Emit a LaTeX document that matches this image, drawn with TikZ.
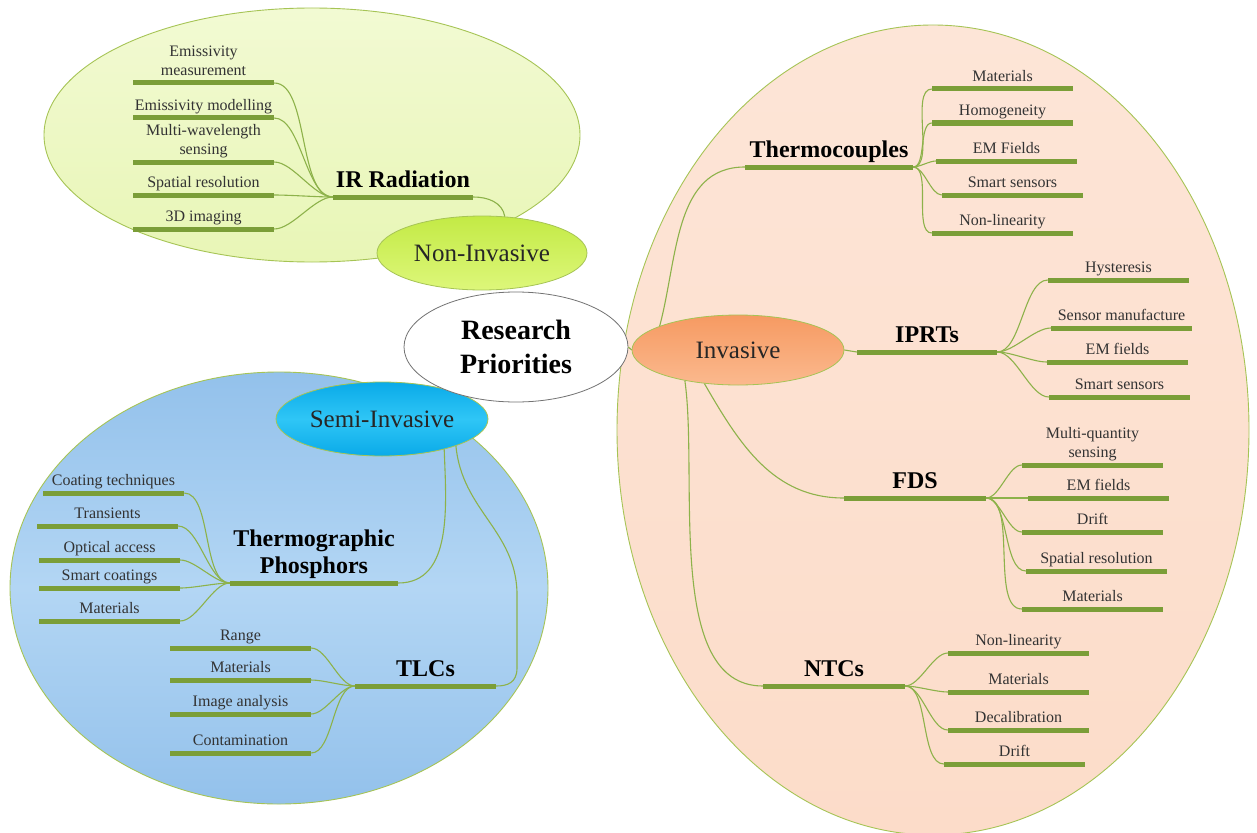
\documentclass[tikz,border=0pt]{standalone}
\usepackage{fontspec}
\setmainfont{Liberation Serif}
\usetikzlibrary{shapes.geometric}
\definecolor{barcol}{HTML}{7B9E38}
\definecolor{conncol}{HTML}{8DB24A}
\definecolor{regborder}{HTML}{A6C455}
\definecolor{textgray}{HTML}{333333}
\definecolor{irtop}{HTML}{F2FAD3}
\definecolor{irbot}{HTML}{E8F6B6}
\definecolor{nitop}{HTML}{C3EA45}
\definecolor{nibot}{HTML}{DDF77A}
\definecolor{petop}{HTML}{FDE5D7}
\definecolor{pebot}{HTML}{FCDCC9}
\definecolor{invtop}{HTML}{F69A62}
\definecolor{invbot}{HTML}{FBB98E}
\definecolor{bltop}{HTML}{93C1EB}
\definecolor{blmid}{HTML}{B3D6F4}
\definecolor{blbot}{HTML}{93C1EB}
\definecolor{smtop}{HTML}{0AAAE8}
\definecolor{smmid}{HTML}{2FC6F6}
\begin{document}
\begin{tikzpicture}[x=1pt,y=-1pt,
  region/.style={ellipse, draw=regborder, line width=0.9pt, inner sep=0pt},
  catoval/.style={ellipse, draw=regborder, line width=0.8pt, inner sep=0pt,
    font=\fontsize{25}{28}\selectfont, text=black!85},
  leafbar/.style={rectangle, fill=barcol, draw=none, inner sep=0pt,
    minimum height=5pt, minimum width=#1},
  leafbar/.default=141pt,
  lbl/.style={font=\fontsize{16}{19}\selectfont, text=textgray, inner sep=0pt, align=center, anchor=base},
  catlbl/.style={font=\fontsize{24}{27}\selectfont\bfseries, text=black, inner sep=0pt, align=center, anchor=base},
  conn/.style={draw=conncol, line width=1.1pt},
]
\useasboundingbox (0,0) rectangle (1257,832);
\fill[white] (0,0) rectangle (1257,832);

% regions
\node[region, minimum width=536pt, minimum height=254pt, top color=irtop, bottom color=irbot] (irreg) at (312,135) {};
\node[region, minimum width=632pt, minimum height=810pt, top color=petop, bottom color=pebot] (invreg) at (933,430) {};
\node[region, minimum width=538pt, minimum height=432pt, top color=bltop, bottom color=blbot, middle color=blmid] (semireg) at (279,588) {};

% category ovals
\node[catoval, minimum width=210pt, minimum height=74pt, top color=nitop, bottom color=nibot] (noninv) at (482,253) {Non-Invasive};
\node[catoval, minimum width=212pt, minimum height=70pt, top color=invtop, bottom color=invbot] (inv) at (738,350) {Invasive};
\node[catoval, minimum width=212pt, minimum height=74pt, top color=smtop, bottom color=smtop, middle color=smmid] (semi) at (382,419) {Semi-Invasive};

% center
\node[ellipse, draw=black!55, line width=0.8pt, fill=white, minimum width=224pt, minimum height=110pt, inner sep=0pt,
  font=\fontsize{28}{34}\selectfont\bfseries, align=center] (rp) at (516,347) {Research\\Priorities};
\draw[conn] (rp.east) -- (inv.west);

% ---------- category bars
\node[leafbar=140pt] (ir) at (403,197) {};
\node[catlbl] (irt) at (403,187) {IR Radiation};
\node[leafbar=168pt] (tc) at (829,167) {};
\node[catlbl] (tct) at (829,157) {Thermocouples};
\node[leafbar=140pt] (ip) at (927,352) {};
\node[catlbl] (ipt) at (927,342) {IPRTs};
\node[leafbar=142pt] (fd) at (915,498) {};
\node[catlbl] (fdt) at (915,488) {FDS};
\node[leafbar=142pt] (nt) at (834,686) {};
\node[catlbl] (ntt) at (834,676) {NTCs};
\node[leafbar=168pt] (tp) at (314,583) {};
\node[catlbl] (tpt) at (314,573) {Thermographic\\Phosphors};
\node[leafbar=141pt] (tl) at (425.5,686) {};
\node[catlbl] (tlt) at (425.5,676) {TLCs};

% category connectors
\draw[conn] (ir.east) to[out=0,in=100] (noninv.58);
\draw[conn] (inv.163) to[out=75,in=180] (tc.west);
\draw[conn] (inv.east) -- (ip.west);
\draw[conn] (inv.-135) to[out=-60,in=180] (fd.west);
\draw[conn] (inv.-150) to[out=-82,in=180,looseness=0.8] (nt.west);
\draw[conn] (semi.-26) to[out=-88,in=0] (tp.east);
\draw[conn] (semi.-20) .. controls (462,510) and (515,530) .. (517,592) -- (517,668) .. controls (517,683) and (507,686) .. (tl.east);

% ---------- leaves
\newcommand\leafL[5]{% name, xleft, y, text, category
  \node[leafbar] (#1) at ({#2+70.5},#3) {};
  \node[lbl] (#1t) at ({#2+70.5},{#3-7.5}) {#4};
  \draw[conn] (#1.east) to[out=0,in=180,looseness=0.7] (#5.west);}
\newcommand\leafR[5]{%
  \node[leafbar] (#1) at ({#2+70.5},#3) {};
  \node[lbl] (#1t) at ({#2+70.5},{#3-7.5}) {#4};
  \draw[conn] (#5.east) to[out=0,in=180,looseness=0.7] (#1.west);}

\leafL{e1}{133}{83}{Emissivity\\measurement}{ir}
\leafL{e2}{133}{118}{Emissivity modelling}{ir}
\leafL{e3}{133}{162}{Multi-wavelength\\sensing}{ir}
\leafL{e4}{133}{195}{Spatial resolution}{ir}
\leafL{e5}{133}{229}{3D imaging}{ir}

\leafR{t1}{932}{89}{Materials}{tc}
\leafR{t2}{932}{123}{Homogeneity}{tc}
\leafR{t3}{936}{161}{EM Fields}{tc}
\leafR{t4}{942}{195}{Smart sensors}{tc}
\leafR{t5}{932}{233}{Non-linearity}{tc}

\leafR{p1}{1048}{280}{Hysteresis}{ip}
\leafR{p2}{1051}{328}{Sensor manufacture}{ip}
\leafR{p3}{1047}{362}{EM fields}{ip}
\leafR{p4}{1049}{397}{Smart sensors}{ip}

\leafR{f1}{1022}{465}{Multi-quantity\\sensing}{fd}
\leafR{f2}{1028}{498}{EM fields}{fd}
\leafR{f3}{1022}{532}{Drift}{fd}
\leafR{f4}{1026}{571}{Spatial resolution}{fd}
\leafR{f5}{1022}{609}{Materials}{fd}

\leafR{n1}{948}{653}{Non-linearity}{nt}
\leafR{n2}{948}{692}{Materials}{nt}
\leafR{n3}{948}{730}{Decalibration}{nt}
\leafR{n4}{944}{764}{Drift}{nt}

\leafL{g1}{43}{493}{Coating techniques}{tp}
\leafL{g2}{37}{526}{Transients}{tp}
\leafL{g3}{39}{560}{Optical access}{tp}
\leafL{g4}{39}{588}{Smart coatings}{tp}
\leafL{g5}{39}{621}{Materials}{tp}

\leafL{l1}{170}{648}{Range}{tl}
\leafL{l2}{170}{680}{Materials}{tl}
\leafL{l3}{170}{714}{Image analysis}{tl}
\leafL{l4}{170}{753}{Contamination}{tl}

\end{tikzpicture}
\end{document}
